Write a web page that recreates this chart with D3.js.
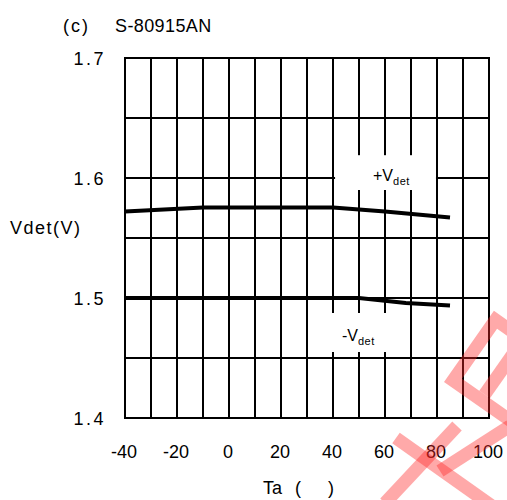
<!DOCTYPE html>
<html>
<head>
<meta charset="utf-8">
<script src="https://cdn.jsdelivr.net/npm/d3@7"></script>
<style>
  body { margin: 0; background: #fff; }
  text { font-family: "Liberation Sans", Arial, sans-serif; fill: #000; }
</style>
</head>
<body>
<script>
// data
const xTicks = [-40, -20, 0, 20, 40, 60, 80, 100];
const yTicks = [1.4, 1.5, 1.6, 1.7];
const plusTemp = [-40, -10, 40, 60, 85];
const plusVdet = [1.572, 1.5755, 1.5755, 1.572, 1.567];
const minusTemp = [-40, 50, 68, 85];
const minusVdet = [1.5, 1.5, 1.4958, 1.4937];

const w = 507, h = 500;

const x = d3.scaleLinear().domain([-40, 100]).range([125, 489]);
const y = d3.scaleLinear().domain([1.4, 1.7]).range([418, 58]);

const svg = d3.select("body").append("svg")
  .attr("width", w).attr("height", h);

// grid: every 10 degrees, every 0.05 V
const grid = svg.append("g").attr("stroke", "#000").attr("stroke-width", 2);
grid.selectAll("line.v").data(d3.range(-40, 101, 10)).enter().append("line")
  .attr("class", "v")
  .attr("x1", d => x(d)).attr("x2", d => x(d))
  .attr("y1", y(1.4)).attr("y2", y(1.7));
grid.selectAll("line.h").data(d3.range(0, 7).map(i => 1.4 + i * 0.05)).enter().append("line")
  .attr("class", "h")
  .attr("x1", x(-40) - 1).attr("x2", x(100) + 1)
  .attr("y1", d => y(d)).attr("y2", d => y(d));

// white boxes behind the curve labels
svg.append("rect")
  .attr("x", x(40.8)).attr("y", y(1.619))
  .attr("width", x(79.6) - x(40.8)).attr("height", y(1.59) - y(1.619))
  .attr("fill", "#fff");
svg.append("rect")
  .attr("x", x(32)).attr("y", y(1.4875))
  .attr("width", x(69) - x(32)).attr("height", y(1.455) - y(1.4875))
  .attr("fill", "#fff");

// curves
const line = d3.line().x(d => x(d[0])).y(d => y(d[1]));
svg.append("path")
  .datum(d3.zip(plusTemp, plusVdet))
  .attr("d", line).attr("fill", "none")
  .attr("stroke", "#000").attr("stroke-width", 4);
svg.append("path")
  .datum(d3.zip(minusTemp, minusVdet))
  .attr("d", line).attr("fill", "none")
  .attr("stroke", "#000").attr("stroke-width", 4);

// curve labels
const lp = svg.append("text").attr("x", 373).attr("y", 181).attr("font-size", 16);
lp.append("tspan").text("+V");
lp.append("tspan").attr("font-size", 11).attr("dy", 4).attr("letter-spacing", 0.5).text("det");
const lm = svg.append("text").attr("x", 342).attr("y", 341).attr("font-size", 16);
lm.append("tspan").text("-V");
lm.append("tspan").attr("font-size", 11).attr("dy", 4).attr("letter-spacing", 0.5).text("det");

// tick labels
svg.selectAll("text.yt").data(yTicks).enter().append("text")
  .attr("class", "yt")
  .attr("x", 106).attr("y", d => y(d) + 7)
  .attr("text-anchor", "end")
  .attr("font-size", 18).attr("letter-spacing", 2.5)
  .text(d => d.toFixed(1));
svg.selectAll("text.xt").data(xTicks).enter().append("text")
  .attr("class", "xt")
  .attr("x", d => x(d) - 1).attr("y", 458)
  .attr("text-anchor", "middle")
  .attr("font-size", 18)
  .text(d => d);

// titles
svg.append("text").attr("x", 63).attr("y", 32).attr("font-size", 18)
  .attr("letter-spacing", 2).text("(c)");
svg.append("text").attr("x", 115).attr("y", 32).attr("font-size", 18)
  .attr("letter-spacing", 0.4).text("S-80915AN");
svg.append("text").attr("x", 10).attr("y", 234).attr("font-size", 18)
  .attr("letter-spacing", 1.5).text("Vdet(V)");
const ta = svg.append("text").attr("y", 494).attr("font-size", 18);
ta.append("tspan").attr("x", 263).text("Ta");
ta.append("tspan").attr("x", 295).text("(");
ta.append("tspan").attr("x", 328).text(")");

// red stamp in the corner
const stampCol = "rgba(255,40,40,0.4)";
const stamp = svg.append("g")
  .attr("stroke", stampCol).attr("stroke-width", 13).attr("fill", "none");
const ring = stamp.append("g").attr("transform", "translate(444,382) rotate(-55)");
ring.append("rect").attr("x", 6.5).attr("y", 6.5).attr("width", 74).attr("height", 68);
ring.append("line").attr("x1", 13).attr("y1", 40.5).attr("x2", 74).attr("y2", 40.5);
stamp.append("line").attr("x1", 457).attr("y1", 426).attr("x2", 385).attr("y2", 503);
stamp.append("line").attr("x1", 396).attr("y1", 438).attr("x2", 492).attr("y2", 506);
stamp.append("line").attr("x1", 440).attr("y1", 471).attr("x2", 510).attr("y2", 426);
</script>
</body>
</html>
